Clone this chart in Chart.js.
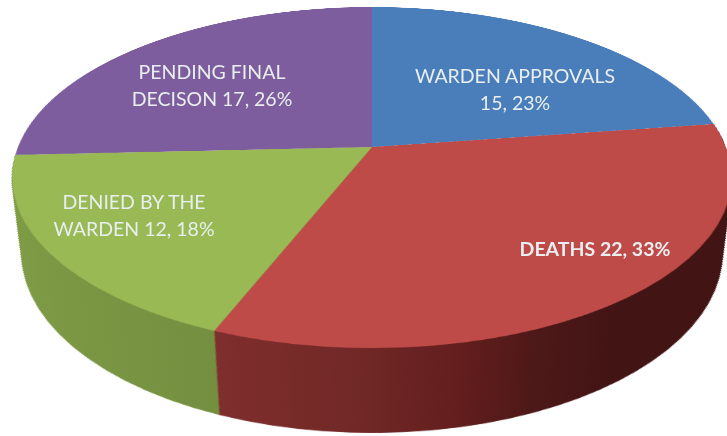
<!DOCTYPE html>
<html>
<head>
<meta charset="utf-8">
<title>Pie</title>
<script src="https://cdn.jsdelivr.net/npm/chart.js@4"></script>
<style>
    html, body { margin: 0; padding: 0; background: #fff; overflow: hidden; width: 727px; height: 436px; }
    #stage { position: relative; width: 727px; height: 436px; overflow: hidden; }
    /* tilted so the round pie lands on the picture with perspective */
    #pie { position: absolute; left: 18px; top: -207px; transform-origin: 354px 354px;
           transform: perspective(1750px) rotateX(62.2deg); }
    .lbl { position: absolute; transform: translateX(-50%); text-align: center; white-space: pre;
           font: 19.5px/27px Lato, sans-serif; color: #e9eef0; }
</style>
</head>
<body>
<div id="stage"><canvas id="pie" width="708" height="1000"></canvas></div>
<script>
const categories = ['WARDEN APPROVALS', 'DEATHS', 'DENIED BY THE WARDEN', 'PENDING FINAL DECISON'];
const values = [15, 22, 12, 17];
const topColors = ['#4a7ebb', '#be4b48', '#98b954', '#7d5d9d'];
// label line one, the rest of the name goes in front of the numbers
const labelHeads = ['WARDEN APPROVALS', '', 'DENIED BY THE', 'PENDING FINAL'];

const labelX = [515, 595, 134, 212];
const labelTop = [62, 235, 188, 58];
const labelBold = [false, true, false, false];

const DEPTH = 149;      // wall height, in canvas px of the tilted plane
const SHRINK = 0.10;    // lower rim is a bit smaller than the top one

const sideWalls = {
    id: 'sideWalls',
    beforeDatasetsDraw(chart) {
        const ctx = chart.ctx;
        const arcs = chart.getDatasetMeta(0).data;
        const cx = arcs[0].x, cy = arcs[0].y;

        const red = ctx.createLinearGradient(230, 0, 708, 0);
        red.addColorStop(0, '#7e2e2c');
        red.addColorStop(0.25, '#702826');
        red.addColorStop(0.42, '#621d1d');
        red.addColorStop(0.56, '#4c1818');
        red.addColorStop(0.7, '#431414');
        red.addColorStop(1, '#431414');
        const green = ctx.createLinearGradient(0, 0, 235, 0);
        green.addColorStop(0, '#7f9c45');
        green.addColorStop(1, '#748e40');
        const walls = [[1, red], [2, green]];

        for (let step = DEPTH; step > 0; step--) {
            const t = step / DEPTH;
            const s = 1 - SHRINK * t;
            ctx.save();
            ctx.translate(cx, cy + DEPTH * t);
            ctx.scale(s, s);
            ctx.translate(-cx, -cy);
            walls.forEach(([i, fill]) => {
                const arc = arcs[i];
                const saved = arc.options;
                arc.options = Object.assign({}, saved, { backgroundColor: fill, borderColor: fill, borderWidth: 1 });
                arc.draw(ctx);
                arc.options = saved;
            });
            ctx.restore();
        }
    },
};

new Chart(document.getElementById('pie'), {
    type: 'pie',
    data: {
        labels: categories,
        datasets: [{ data: values, backgroundColor: topColors, borderWidth: 0 }],
    },
    options: {
        responsive: false,
        animation: false,
        layout: { padding: { bottom: 292 } },
        plugins: { legend: { display: false }, tooltip: { enabled: false } },
    },
    plugins: [sideWalls],
});

const total = values.reduce((a, b) => a + b, 0);
categories.forEach((name, i) => {
    const head = labelHeads[i];
    const tail = name.slice(head.length).trim();
    const nums = values[i] + ', ' + Math.round(values[i] / total * 100) + '%';
    const second = (tail ? tail + ' ' : '') + nums;
    const el = document.createElement('div');
    el.className = 'lbl';
    el.textContent = head ? head + '\n' + second : second;
    el.style.left = labelX[i] + 'px';
    el.style.top = labelTop[i] + 'px';
    if (labelBold[i]) el.style.fontWeight = 'bold';
    document.getElementById('stage').appendChild(el);
});
</script>
</body>
</html>
